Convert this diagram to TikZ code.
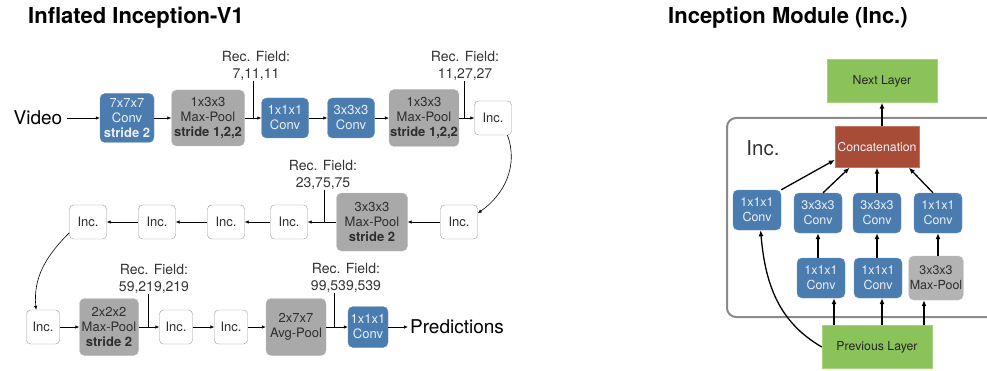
\documentclass[tikz,border=0pt]{standalone}
\usepackage{fontspec}
\setmainfont{TeX Gyre Heros}
\usetikzlibrary{arrows.meta,calc}

\definecolor{convblue}{HTML}{4B7CB0}
\definecolor{convedge}{HTML}{6A95C2}
\definecolor{poolgray}{HTML}{A9A9A9}
\definecolor{pooledge}{HTML}{BEBEBE}
\definecolor{poollight}{HTML}{B3B3B3}
\definecolor{pooltext}{HTML}{2E2E2E}
\definecolor{incedge}{HTML}{9A9A9A}
\definecolor{fieldtext}{HTML}{333333}
\definecolor{layergreen}{HTML}{8BC35A}
\definecolor{layeredge}{HTML}{A6D37E}
\definecolor{catred}{HTML}{A84B37}
\definecolor{frameline}{HTML}{8A8A8A}

\tikzset{
  box/.style={rounded corners=5pt, align=center, inner sep=1pt, font=\fontsize{13}{15}\selectfont},
  conv/.style={box, fill=convblue, draw=convedge, text=white!88!convblue, minimum width=47pt, minimum height=40pt},
  pool/.style={box, fill=poolgray, draw=pooledge, text=pooltext},
  inc/.style={box, rounded corners=4pt, draw=incedge, fill=white, text=pooltext, minimum width=37pt, minimum height=34pt},
  layer/.style={box, rounded corners=0pt, fill=layergreen, draw=layeredge, text=black!85, minimum width=110pt, minimum height=43pt, font=\fontsize{12.3}{15}\selectfont},
  field/.style={align=center, inner sep=0pt, text=fieldtext, font=\fontsize{14}{17}\selectfont},
  big/.style={inner sep=0pt, font=\fontsize{19}{22}\selectfont},
  title/.style={anchor=west, inner sep=0pt, font=\fontsize{22}{26}\selectfont\bfseries},
  arr/.style={-{Latex[length=4pt,width=3.5pt]}, line width=0.6pt},
  marr/.style={-{Latex[length=6pt,width=5pt]}, line width=1.3pt},
}

\begin{document}
\begin{tikzpicture}[x=1pt,y=1pt]
\useasboundingbox (0,0) rectangle (987,370);

% Titles
\node[title] (ttl) at (28,352) {Inflated Inception-V1};
\node[title] (ttr) at (668,352) {Inception Module (Inc.)};

% First row
\node[big, inner xsep=5pt] (video) at (38,252) {Video};
\node[conv, minimum width=54pt, minimum height=49pt] (c1) at (127,252) {7x7x7\\Conv\\\textbf{stride 2}};
\node[pool, minimum width=73pt, minimum height=56pt] (p1) at (208,252) {1x3x3\\Max-Pool\\\textbf{stride 1,2,2}};
\node[conv] (c2) at (285,252) {1x1x1\\Conv};
\node[conv] (c3) at (351,252) {3x3x3\\Conv};
\node[pool, minimum width=65pt, minimum height=57pt] (p2) at (424,252) {1x3x3\\Max-Pool\\\textbf{stride 1,2,2}};
\node[inc] (i1) at (493,252) {Inc.};
\draw[arr] (video) -- (c1);
\draw[arr] (c1) -- (p1);
\draw[arr] (p1) -- (c2);
\draw[arr] (c2) -- (c3);
\draw[arr] (c3) -- (p2);
\draw[arr] (p2) -- (i1);

% Receptive fields, first row
\node[field] (rf1) at (256,304) {Rec. Field:\\7,11,11};
\node[field] (rf2) at (465,304) {Rec. Field:\\11,27,27};
\coordinate (t1) at (253,252);
\coordinate (t2) at (464,252);
\draw[line width=0.6pt] (t1 |- rf1.south) -- (t1);
\draw[line width=0.6pt] (t2 |- rf2.south) -- (t2);

% Second row, right to left
\node[inc] (i2) at (459,148) {Inc.};
\node[pool, minimum width=71pt, minimum height=58pt] (p3) at (372,148) {3x3x3\\Max-Pool\\\textbf{stride 2}};
\node[inc] (i3) at (289,148) {Inc.};
\node[inc] (i4) at (226,148) {Inc.};
\node[inc] (i5) at (157,148) {Inc.};
\node[inc] (i6) at (88,148) {Inc.};
\draw[arr] (i1.-50) to[out=-70,in=35] (i2.25);
\draw[arr] (i2) -- (p3);
\draw[arr] (p3) -- (i3);
\draw[arr] (i3) -- (i4);
\draw[arr] (i4) -- (i5);
\draw[arr] (i5) -- (i6);

\node[field] (rf3) at (323,195) {Rec. Field:\\23,75,75};
\coordinate (t3) at (324,148);
\draw[line width=0.6pt] (t3 |- rf3.south) -- (t3);

% Third row
\node[inc, minimum width=33pt] (i7) at (43,43) {Inc.};
\node[pool, minimum width=59pt, minimum height=57pt] (p4) at (109,43) {2x2x2\\Max-Pool\\\textbf{stride 2}};
\node[inc, minimum width=33pt] (i8) at (176,43) {Inc.};
\node[inc, minimum width=33pt] (i9) at (231,43) {Inc.};
\node[pool, minimum width=60pt, minimum height=57pt] (p5) at (296,43) {2x7x7\\Avg-Pool};
\node[conv, minimum width=40pt, minimum height=41pt] (c4) at (368,43) {1x1x1\\Conv};
\node[big, inner xsep=2pt] (pred) at (457,43) {Predictions};
\draw[arr] (i6.210) to[out=225,in=95] (i7.112);
\draw[arr] (i7) -- (p4);
\draw[arr] (p4) -- (i8);
\draw[arr] (i8) -- (i9);
\draw[arr] (i9) -- (p5);
\draw[arr] (p5) -- (c4);
\draw[arr] (c4) -- (pred);

\node[field] (rf4) at (154,91) {Rec. Field:\\59,219,219};
\node[field] (rf5) at (346,92) {Rec. Field:\\99,539,539};
\coordinate (t4) at (148,43);
\coordinate (t5) at (334,43);
\draw[line width=0.6pt] (t4 |- rf4.south) -- (t4);
\draw[line width=0.6pt] (t5 |- rf5.south) -- (t5);

% Inception module
\draw[frameline, line width=2pt, rounded corners=9pt] (727,53) rectangle (1010,252);
\node[big, font=\fontsize{20.5}{24}\selectfont, text=black!80] (inclbl) at (763,222) {Inc.};
\node[layer] (nxt) at (882,289) {Next Layer};
\node[box, rounded corners=0pt, fill=catred, draw=catred!75!white, text=white!92!catred, minimum width=84pt, minimum height=41pt, font=\fontsize{12.3}{15}\selectfont] (cat) at (877,223) {Concatenation};
\node[conv, minimum width=48pt, font=\fontsize{12.5}{15}\selectfont] (b1) at (757,160) {1x1x1\\Conv};
\node[conv, minimum width=48pt, font=\fontsize{12.5}{15}\selectfont] (b2) at (818,157) {3x3x3\\Conv};
\node[conv, minimum width=48pt, font=\fontsize{12.5}{15}\selectfont] (b3) at (877,157) {3x3x3\\Conv};
\node[conv, minimum width=48pt, font=\fontsize{12.5}{15}\selectfont] (b4) at (938,157) {1x1x1\\Conv};
\node[conv, minimum width=48pt, font=\fontsize{12.5}{15}\selectfont] (r2) at (821,92) {1x1x1\\Conv};
\node[conv, minimum width=48pt, font=\fontsize{12.5}{15}\selectfont] (r3) at (878,92) {1x1x1\\Conv};
\node[pool, fill=poollight, minimum width=54pt, minimum height=44pt, font=\fontsize{12.5}{15}\selectfont] (mp) at (936,92) {3x3x3\\Max-Pool};
\node[layer] (prev) at (877,23) {Previous Layer};

\draw[marr] (nxt.south |- cat.north) -- (nxt.south);
\draw[marr] (b1.north east) -- (cat.197);
\draw[marr] (b2.76) -- (cat.217);
\draw[marr] (b3.north) -- (cat.south);
\draw[marr] (b4.104) -- (cat.-33);
\draw[marr] (b2.south |- r2.north) -- (b2.south);
\draw[marr] (b3.south |- r3.north) -- (b3.south);
\draw[marr] (b4.south |- mp.north) -- (b4.south);
\draw[marr] ([xshift=13pt]r2.south |- prev.north) -- ([xshift=13pt]r2.south);
\draw[marr] ([xshift=4pt]r3.south |- prev.north) -- ([xshift=4pt]r3.south);
\draw[marr] ([xshift=-12pt]mp.south |- prev.north) -- ([xshift=-12pt]mp.south);
\draw[marr] (prev.west) to[out=150,in=-85] (b1.-80);
\end{tikzpicture}
\end{document}
